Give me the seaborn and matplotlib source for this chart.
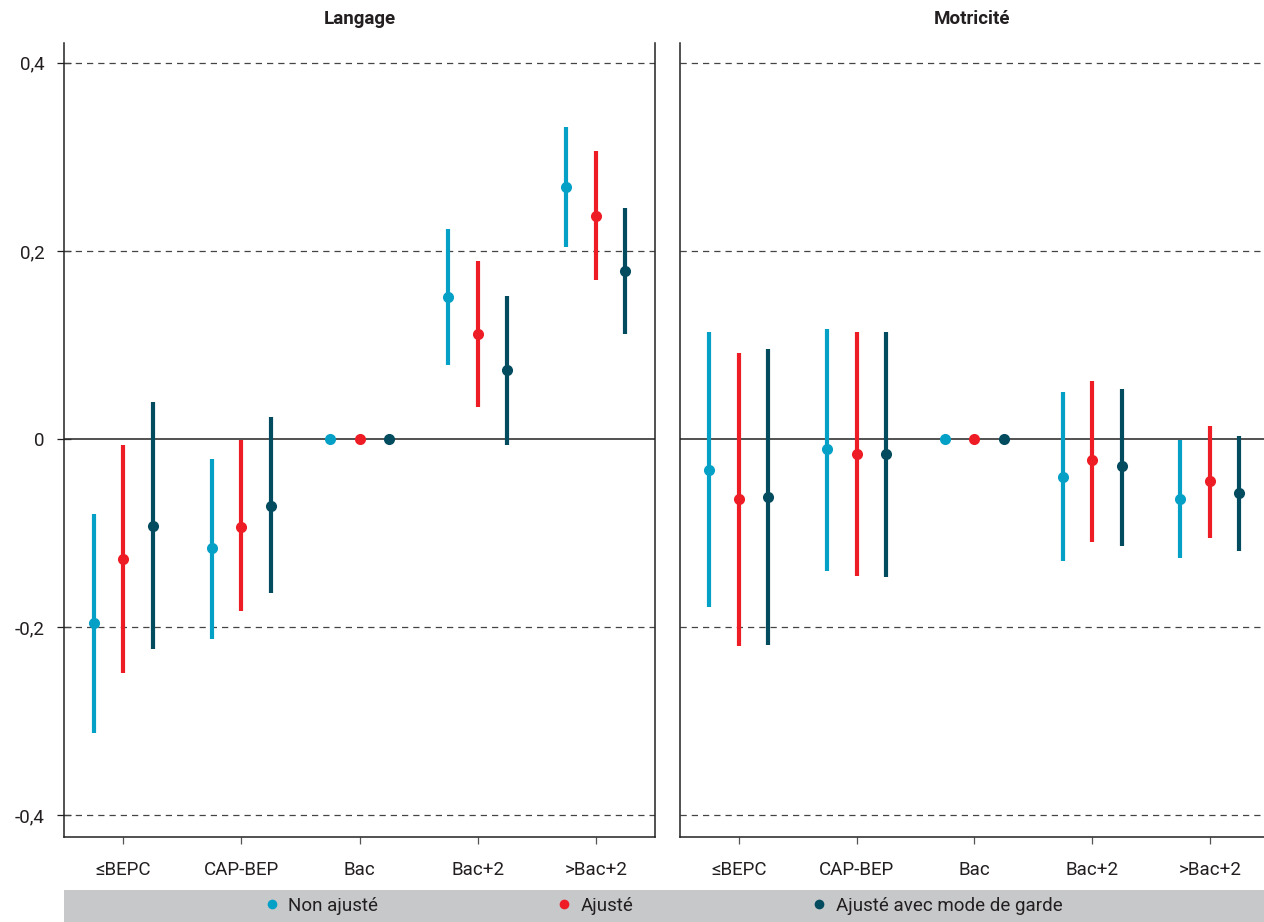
import pandas as pd
import seaborn as sns
import matplotlib.pyplot as plt
from matplotlib.lines import Line2D
from matplotlib.patches import Rectangle

# Data: estimate and confidence interval per diploma level
categories = ["≤BEPC", "CAP-BEP", "Bac", "Bac+2", ">Bac+2"]
series = ["Non ajusté", "Ajusté", "Ajusté avec mode de garde"]

lang_est = {
    "Non ajusté": [-0.196, -0.116, 0.0, 0.151, 0.268],
    "Ajusté": [-0.128, -0.093, 0.0, 0.112, 0.237],
    "Ajusté avec mode de garde": [-0.092, -0.071, 0.0, 0.073, 0.179],
}
lang_low = {
    "Non ajusté": [-0.312, -0.213, 0.0, 0.079, 0.204],
    "Ajusté": [-0.249, -0.183, 0.0, 0.034, 0.169],
    "Ajusté avec mode de garde": [-0.223, -0.164, 0.0, -0.006, 0.112],
}
lang_high = {
    "Non ajusté": [-0.080, -0.021, 0.0, 0.223, 0.332],
    "Ajusté": [-0.006, -0.001, 0.0, 0.189, 0.306],
    "Ajusté avec mode de garde": [0.039, 0.023, 0.0, 0.152, 0.246],
}

mot_est = {
    "Non ajusté": [-0.033, -0.011, 0.0, -0.040, -0.064],
    "Ajusté": [-0.064, -0.016, 0.0, -0.022, -0.045],
    "Ajusté avec mode de garde": [-0.062, -0.016, 0.0, -0.029, -0.057],
}
mot_low = {
    "Non ajusté": [-0.178, -0.140, 0.0, -0.130, -0.126],
    "Ajusté": [-0.220, -0.146, 0.0, -0.109, -0.105],
    "Ajusté avec mode de garde": [-0.219, -0.147, 0.0, -0.114, -0.119],
}
mot_high = {
    "Non ajusté": [0.114, 0.117, 0.0, 0.050, -0.001],
    "Ajusté": [0.092, 0.114, 0.0, 0.062, 0.014],
    "Ajusté avec mode de garde": [0.096, 0.114, 0.0, 0.053, 0.003],
}

yticks = [-0.4, -0.2, 0, 0.2, 0.4]
ytick_labels = ["-0,4", "-0,2", "0", "0,2", "0,4"]

colors = ["#05A0C6", "#EE1D25", "#034B5E"]
txt = "#231F20"
fonts = ["Roboto", "DejaVu Sans"]


def long_table(est, low, high):
    # three rows per point (low, estimate, high) so median = estimate, range = CI
    rows = []
    for s in series:
        for i, c in enumerate(categories):
            for v in (low[s][i], est[s][i], high[s][i]):
                rows.append({"niveau": c, "serie": s, "valeur": v})
    return pd.DataFrame(rows)


sns.set_theme(style="white")
plt.rcParams["font.family"] = fonts
plt.rcParams["text.color"] = txt
plt.rcParams["xtick.color"] = txt
plt.rcParams["ytick.color"] = txt

fig = plt.figure(figsize=(12.64, 9.22), dpi=100)
ax1 = fig.add_axes([64 / 1264, 85 / 922, 591 / 1264, 794 / 922])
ax2 = fig.add_axes([680 / 1264, 85 / 922, 584 / 1264, 794 / 922])

panels = [(ax1, "Langage", lang_est, lang_low, lang_high),
          (ax2, "Motricité", mot_est, mot_low, mot_high)]

for ax, title, est, low, high in panels:
    df = long_table(est, low, high)
    sns.pointplot(data=df, x="niveau", y="valeur", hue="serie",
                  order=categories, hue_order=series, palette=colors,
                  estimator="median", errorbar=lambda v: (v.min(), v.max()),
                  dodge=0.5, linestyles="none", markers="o",
                  markersize=8, markeredgewidth=0,
                  err_kws={"linewidth": 3, "solid_capstyle": "butt"},
                  legend=False, ax=ax, zorder=3)

    for y in [-0.4, -0.2, 0.2, 0.4]:
        ax.axhline(y, color="#444444", lw=0.9, ls=(0, (5, 4)), zorder=1)
    ax.axhline(0, color="#333333", lw=1.2, zorder=2)

    ax.set_xlim(-0.5, 4.5 if ax is ax1 else 4.46)
    ax.set_ylim(-0.423, 0.421)
    ax.set_yticks(yticks)
    ax.set_xlabel("")
    ax.set_ylabel("")
    ax.set_title(title, fontsize=13.5, fontweight="bold", pad=14, color=txt)

    ax.tick_params(axis="x", direction="out", length=5, width=0.9,
                   pad=12, labelsize=13.5, color="#555555", bottom=True)
    ax.spines["top"].set_visible(False)
    for sp in ["left", "right", "bottom"]:
        ax.spines[sp].set_color("#222222")
        ax.spines[sp].set_linewidth(1.1)

ax1.set_yticklabels(ytick_labels)
ax1.tick_params(axis="y", direction="inout", length=10, width=0.9,
                pad=9, labelsize=13.5, left=True)
ax2.set_yticklabels([])
ax2.tick_params(axis="y", left=False)
ax2.spines["right"].set_visible(False)

# grey legend band at the bottom
fig.patches.append(Rectangle((64 / 1264, 0), 1 - 64 / 1264, 32 / 922,
                             transform=fig.transFigure, facecolor="#C7C8CA",
                             edgecolor="none", zorder=0))
handles = [Line2D([], [], ls="none", marker="o", markersize=7,
                  markerfacecolor=c, markeredgewidth=0) for c in colors]
fig.legend(handles, series, loc="center", bbox_to_anchor=(0.525, 16 / 922),
           ncol=3, frameon=False, fontsize=13.5, handlelength=0.8,
           handletextpad=0.5, columnspacing=9.5, borderaxespad=0)

fig.savefig("out.png", dpi=100)
